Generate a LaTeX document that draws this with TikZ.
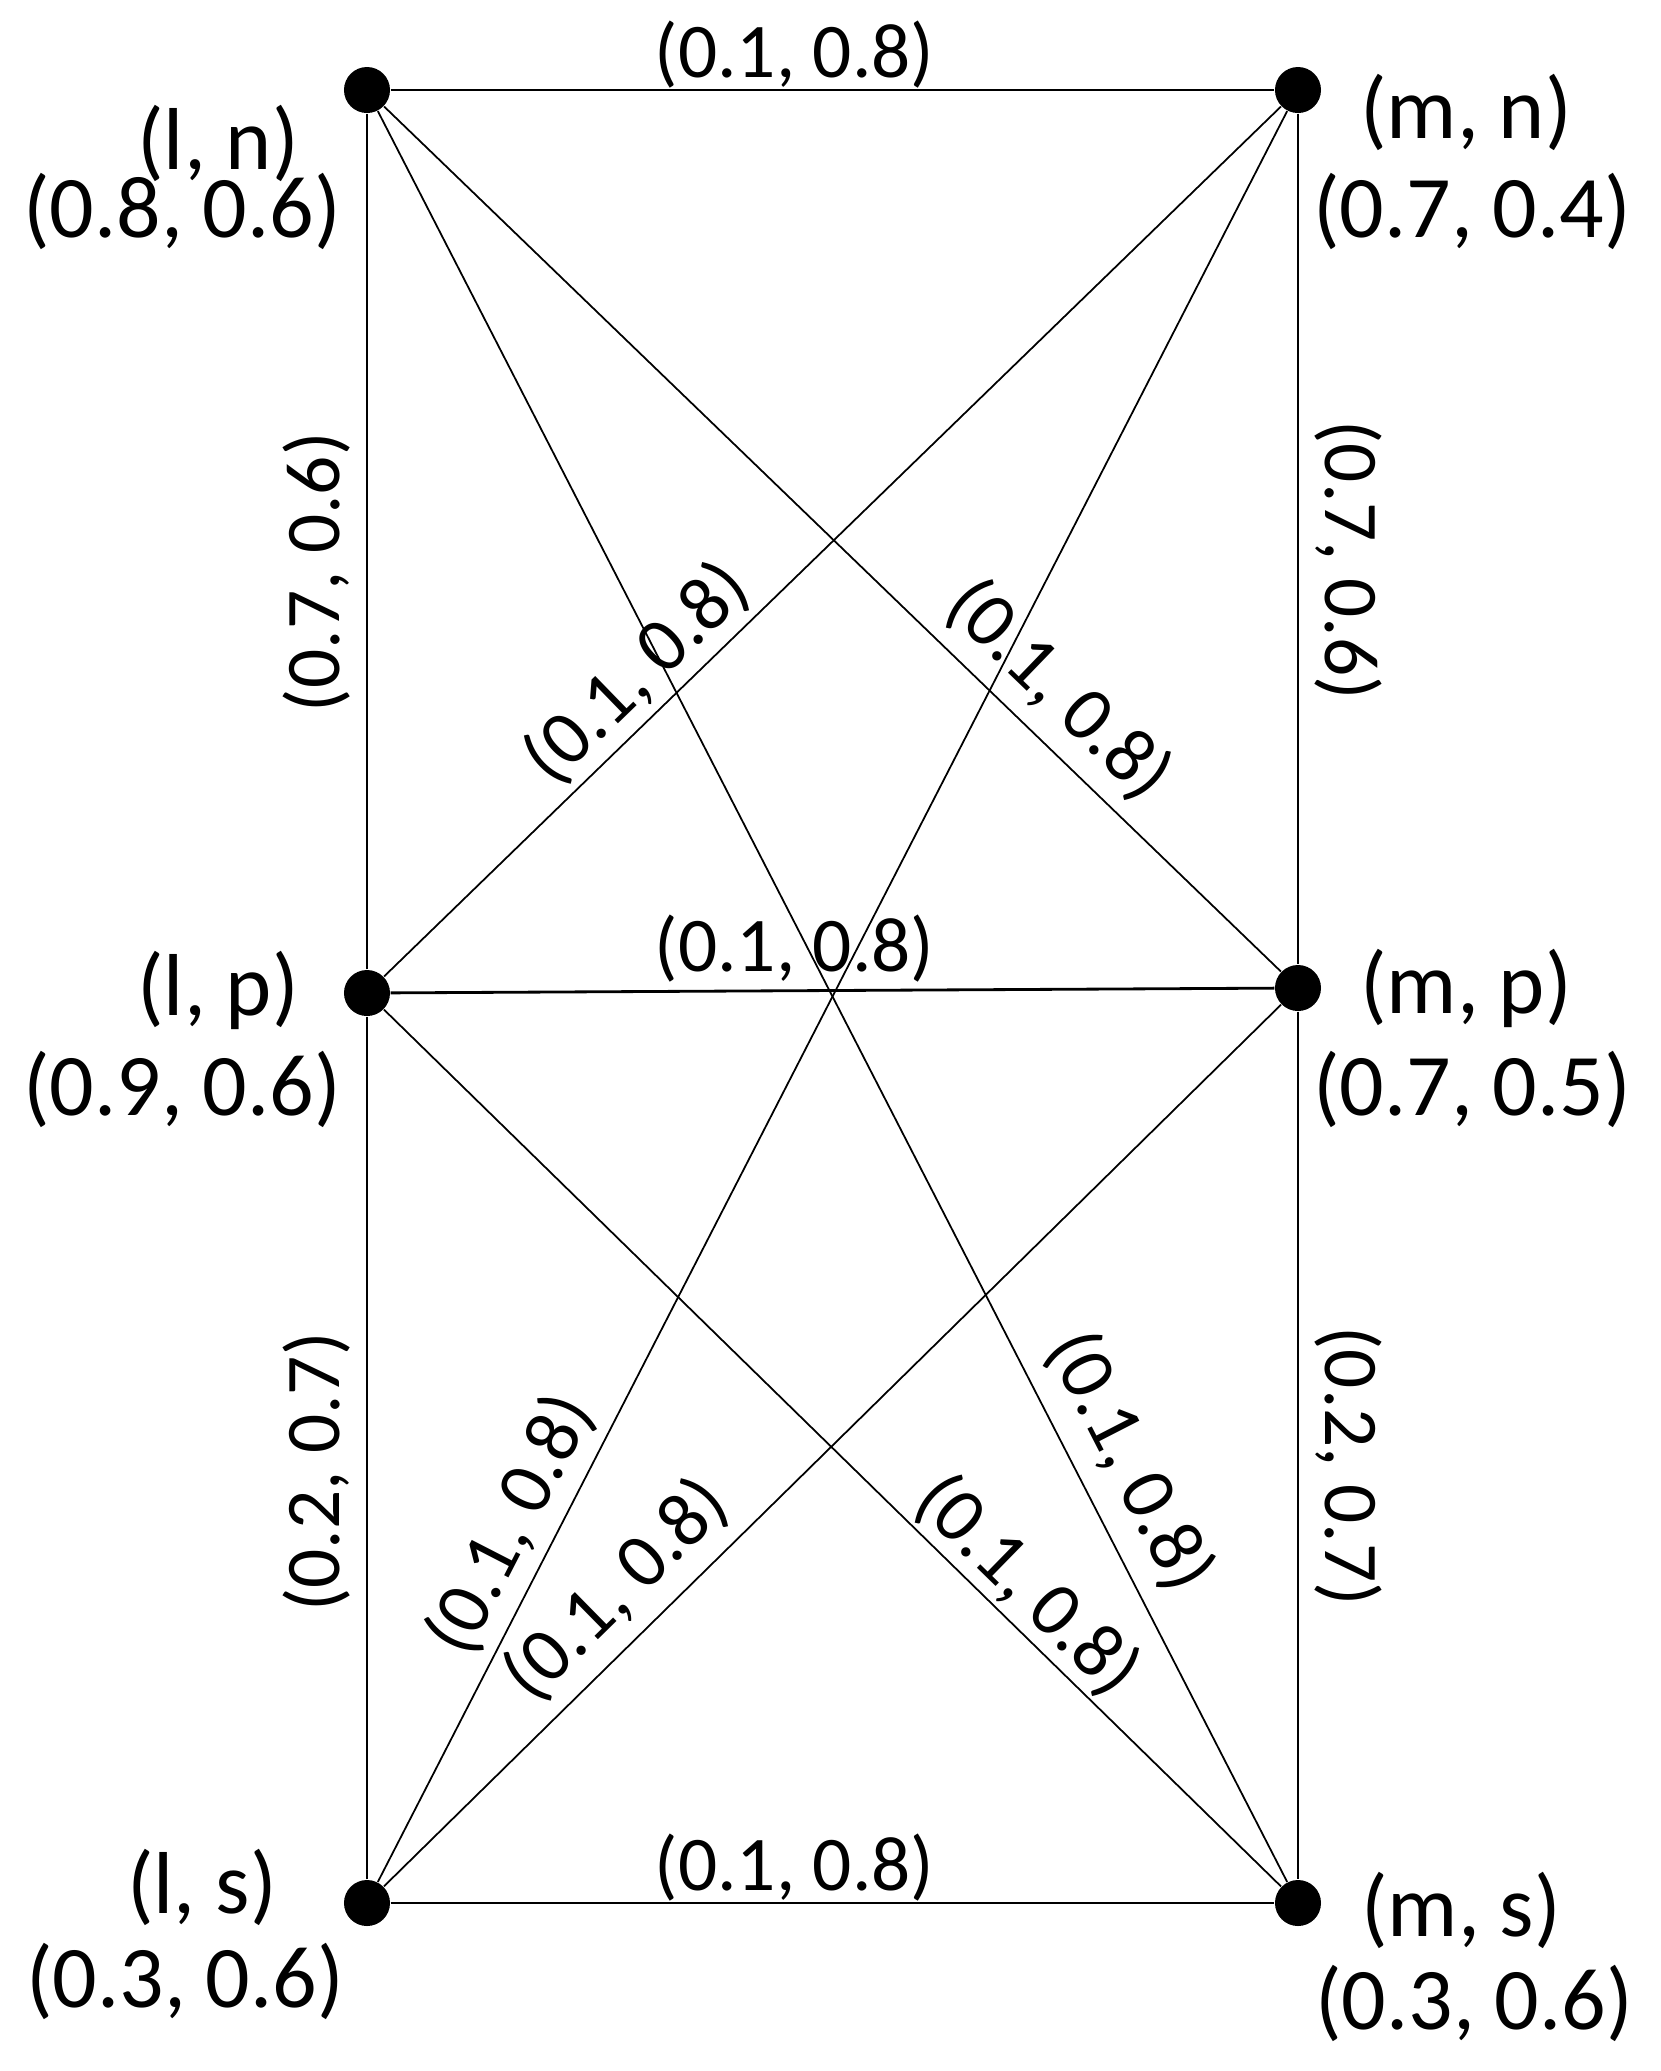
\documentclass[tikz,border=0pt]{standalone}
\usepackage{fontspec}
\setmainfont{Carlito}
\usetikzlibrary{calc}
\tikzset{
	dot/.style={circle, fill=black, inner sep=0pt, minimum size=0.46cm},
	vlbl/.style={font=\fontsize{25}{30}\selectfont, inner sep=0pt},
	elbl/.style={font=\fontsize{22}{26}\selectfont, inner sep=1pt},
	rim/.style={line width=0.8pt},
	cross/.style={line width=0.5pt},
}

\begin{document}
\begin{tikzpicture}[x=0.01cm, y=-0.01cm]
	\useasboundingbox (0,0) rectangle (1661,2071);
	\foreach \n/\x/\y in {ln/367/90, mn/1298/90, lp/367/993, mp/1298/988, ls/367/1903, ms/1298/1903}
		\node[dot] (\n) at (\x,\y) {};
	
	% frame
	\draw[rim] (ln) -- node[elbl, pos=0.457, above, inner sep=0pt] {(0.1, 0.8)} (mn);
	\draw[rim] (lp) -- node[elbl, pos=0.457, above, inner sep=2pt] {(0.1, 0.8)} (mp);
	\draw[rim] (ls) -- node[elbl, pos=0.457, above, inner sep=0pt] {(0.1, 0.8)} (ms);
	\draw[rim] (lp) -- node[elbl, pos=0.464, rotate=90, anchor=south, inner sep=4.5pt] {(0.7, 0.6)} (ln);
	\draw[rim] (ls) -- node[elbl, pos=0.472, rotate=90, anchor=south, inner sep=4.5pt] {(0.2, 0.7)} (lp);
	\draw[rim] (mn) -- node[elbl, pos=0.525, rotate=-90, anchor=south, inner sep=4.5pt] {(0.7, 0.6)} (mp);
	\draw[rim] (mp) -- node[elbl, pos=0.524, rotate=-90, anchor=south, inner sep=4.5pt] {(0.2, 0.7)} (ms);
	
	% crossing edges
	\draw[cross] (lp) -- node[elbl, pos=0.314, sloped, above, inner sep=2pt] {(0.1, 0.8)} (mn);
	\draw[cross] (ln) -- node[elbl, pos=0.715, sloped, above, inner sep=4pt] {(0.1, 0.8)} (mp);
	\draw[cross] (ln) -- node[elbl, pos=0.776, sloped, above, inner sep=5pt] {(0.1, 0.8)} (ms);
	\draw[cross] (ls) -- node[elbl, pos=0.190, sloped, above, inner sep=3pt] {(0.1, 0.8)} (mn);
	\draw[cross] (lp) -- node[elbl, pos=0.688, sloped, above, inner sep=1pt] {(0.1, 0.8)} (ms);
	\draw[cross] (ls) -- node[elbl, pos=0.297, sloped, above, inner sep=4pt] {(0.1, 0.8)} (mp);
	
	% vertex labels
	\node[vlbl] (ln-name) at ($(ln)+(-149,53)$) {(l, n)};
	\node[vlbl] (ln-val) at ($(ln)+(-185,121)$) {(0.8, 0.6)};
	\node[vlbl] (mn-name) at ($(mn)+(168,22)$) {(m, n)};
	\node[vlbl] (mn-val) at ($(mn)+(174,121)$) {(0.7, 0.4)};
	\node[vlbl] (lp-name) at ($(lp)+(-149,-3)$) {(l, p)};
	\node[vlbl] (lp-val) at ($(lp)+(-185,96)$) {(0.9, 0.6)};
	\node[vlbl] (mp-name) at ($(mp)+(168,0)$) {(m, p)};
	\node[vlbl] (mp-val) at ($(mp)+(174,101)$) {(0.7, 0.5)};
	\node[vlbl] (ls-name) at ($(ls)+(-165,-16)$) {(l, s)};
	\node[vlbl] (ls-val) at ($(ls)+(-182,78)$) {(0.3, 0.6)};
	\node[vlbl] (ms-name) at ($(ms)+(163,7)$) {(m, s)};
	\node[vlbl] (ms-val) at ($(ms)+(176,100)$) {(0.3, 0.6)};
\end{tikzpicture}
\end{document}
